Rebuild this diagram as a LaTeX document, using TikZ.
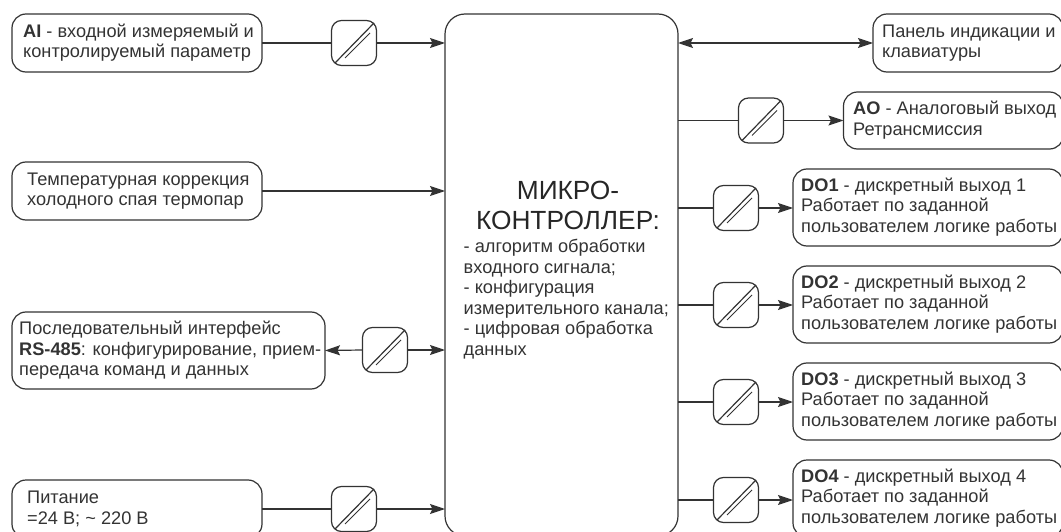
\documentclass[tikz,border=0pt]{standalone}
\usepackage{fontspec}
\setmainfont{Liberation Sans}
\usetikzlibrary{arrows.meta}
\tikzset{
  x=1pt,y=-1pt,
  line/.style={draw=black!80,line width=1.2pt},
  conn/.style={line,-{Stealth[length=15pt,width=10pt,inset=2.5pt]}},
  bconn/.style={line,{Stealth[length=15pt,width=10pt,inset=2.5pt]}-{Stealth[length=15pt,width=10pt,inset=2.5pt]}},
  box/.style={line,rounded corners=14pt,anchor=north west,minimum height=#1,inner sep=0pt,outer sep=0pt},
  iso/.style={line,rounded corners=10pt,minimum width=45pt,minimum height=45pt,inner sep=0pt,outer sep=0pt},
  lab/.style={anchor=west,align=left,font=\fontsize{18.2}{20.5}\selectfont,text=black!80,inner sep=0pt},
}
\newcommand{\isol}[1]{%
  \draw[line] ([xshift=-19pt,yshift=-20pt]#1.center) -- ([xshift=20pt,yshift=20pt]#1.center);
  \draw[line,line width=.8pt] ([xshift=-9pt,yshift=-15pt]#1.center) -- ([xshift=16pt,yshift=10pt]#1.center);
}
\begin{document}
\begin{tikzpicture}
\useasboundingbox (0,0) rectangle (1061,532);
\clip (0,0) rectangle (1061,532);
\node[box=58pt,minimum width=250pt] (ai) at (12,14) {};
\node[box=58pt,minimum width=250pt] (tc) at (12,162) {};
\node[box=77pt,minimum width=313pt] (rs) at (12,312) {};
\node[box=58pt,minimum width=250pt] (pw) at (12,480) {};
\node[box=522pt,minimum width=233pt,rounded corners=20pt] (mc) at (445,14) {};
\node[box=58pt,minimum width=190pt] (pn) at (873,14) {};
\node[box=57pt,minimum width=220pt] (ao) at (843.5,92) {};
\node[box=77pt,minimum width=270pt] (d1) at (793,169) {};
\node[box=77pt,minimum width=270pt] (d2) at (793,266) {};
\node[box=77pt,minimum width=270pt] (d3) at (793,363) {};
\node[box=77pt,minimum width=270pt] (d4) at (793,460) {};
\node[iso] (i1) at (354,43) {};
\node[iso] (i2) at (385,350) {};
\node[iso] (i3) at (354,509) {};
\node[iso] (i4) at (761,120.5) {};
\node[iso] (i5) at (736,208) {};
\node[iso] (i6) at (736,305) {};
\node[iso] (i7) at (736,402) {};
\node[iso] (i8) at (736,500) {};
\foreach \n in {i1,i2,i3,i4,i5,i6,i7,i8}{\isol{\n}}
\coordinate (mi1) at (445,43);
\coordinate (mi2) at (445,191);
\coordinate (mi3) at (445,350);
\coordinate (mi4) at (445,509);
\coordinate (mo1) at (678,43);
\coordinate (mo2) at (678,120.5);
\coordinate (mo3) at (678,208);
\coordinate (mo4) at (678,305);
\coordinate (mo5) at (678,402);
\coordinate (mo6) at (678,500);
\draw[line] (ai.east) -- (i1.west);
\draw[conn] (i1.east) -- (mi1);
\draw[conn] (tc.east) -- (mi2);
\draw[conn] (i2.west) -- (rs.east);
\draw[conn] (i2.east) -- (mi3);
\draw[line] (pw.east |- i3.west) -- (i3.west);
\draw[conn] (i3.east) -- (mi4);
\draw[bconn] (mo1) -- (pn.west);
\draw[line] (mo2) -- (i4.west);
\draw[conn] (i4.east) -- (ao.west);
\draw[line] (mo3) -- (i5.west);
\draw[conn] (i5.east) -- (i5.east -| d1.west);
\draw[line] (mo4) -- (i6.west);
\draw[conn] (i6.east) -- (i6.east -| d2.west);
\draw[line] (mo5) -- (i7.west);
\draw[conn] (i7.east) -- (i7.east -| d3.west);
\draw[line] (mo6) -- (i8.west);
\draw[conn] (i8.east) -- (i8.east -| d4.west);
\node[lab] (tai) at (23,42.5) {\textbf{AI} - входной измеряемый и\\контролируемый параметр};
\node[lab] (ttc) at (27,191) {Температурная коррекция\\холодного спая термопар};
\node[lab] (trs) at (19,350.5) {Последовательный интерфейс\\\textbf{RS-485}: конфигурирование, прием-\\передача команд и данных};
\node[lab] (tpw) at (27,509) {Питание\\=24 В; \textasciitilde{} 220 В};
\node[lab] (tpn) at (882,43) {Панель индикации и\\клавиатуры};
\node[lab] (tao) at (853,120) {\textbf{AO} - Аналоговый выход\\Ретрансмиссия};
\node[lab] (td1) at (801,207) {\textbf{DO1} - дискретный выход 1\\Работает по заданной\\пользователем логике работы};
\node[lab] (td2) at (801,304) {\textbf{DO2} - дискретный выход 2\\Работает по заданной\\пользователем логике работы};
\node[lab] (td3) at (801,401) {\textbf{DO3} - дискретный выход 3\\Работает по заданной\\пользователем логике работы};
\node[lab] (td4) at (801,498) {\textbf{DO4} - дискретный выход 4\\Работает по заданной\\пользователем логике работы};
\node[anchor=north,align=center,font=\fontsize{26.3}{30}\selectfont,text=black!85,inner sep=0pt] (th) at (568,181) {МИКРО-\\КОНТРОЛЛЕР:};
\node[lab,anchor=north west] (tb) at (463.5,239) {- алгоритм обработки\\входного сигнала;\\- конфигурация\\измерительного канала;\\- цифровая обработка\\данных};
\end{tikzpicture}
\end{document}
